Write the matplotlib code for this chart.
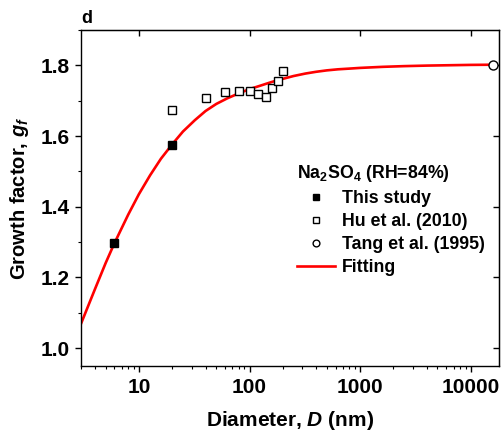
import matplotlib
matplotlib.use('Agg')
import matplotlib.pyplot as plt
import numpy as np
from matplotlib.ticker import FixedLocator, NullLocator, MultipleLocator, LogLocator, NullFormatter

plt.rcParams['font.family'] = ['Liberation Sans', 'DejaVu Sans']
plt.rcParams['font.weight'] = 'bold'
plt.rcParams['mathtext.fontset'] = 'custom'
plt.rcParams['mathtext.rm'] = 'Liberation Sans:bold'
plt.rcParams['mathtext.it'] = 'Liberation Sans:italic:bold'
plt.rcParams['mathtext.bf'] = 'Liberation Sans:bold'

# this study
d_this = [6, 20]
gf_this = [1.298, 1.575]

# Hu et al. (2010)
d_hu = [20, 40, 60, 80, 100, 120, 140, 160, 180, 200]
gf_hu = [1.675, 1.708, 1.725, 1.727, 1.727, 1.719, 1.710, 1.736, 1.756, 1.783]

# Tang et al. (1995)
d_tang = [16000]
gf_tang = [1.802]

# fitting curve
d_fit = [3, 4, 5, 6, 8, 10, 12.6, 15.8, 20, 25, 32, 40, 50, 63, 80, 100,
         126, 158, 200, 250, 320, 400, 500, 630, 800, 1000, 1600, 2500,
         4000, 6300, 10000, 16000]
gf_fit = [1.070, 1.167, 1.241, 1.297, 1.378, 1.436, 1.489, 1.536, 1.577,
          1.613, 1.645, 1.671, 1.691, 1.707, 1.721, 1.733, 1.743, 1.753,
          1.762, 1.770, 1.777, 1.782, 1.786, 1.789, 1.791, 1.793, 1.796,
          1.798, 1.7995, 1.8005, 1.8015, 1.802]

fig = plt.figure(figsize=(5.04, 4.36), dpi=100)
ax = fig.add_axes([0.161, 0.161, 0.829, 0.770])

ax.plot(d_fit, gf_fit, '-', color='red', lw=1.9, label='Fitting', zorder=2)
ax.plot(d_this, gf_this, 's', color='black', ms=5.5, label='This study', zorder=3)
ax.plot(d_hu, gf_hu, 's', mfc='white', mec='black', mew=1.0, ms=6, label='Hu et al. (2010)', zorder=3)
ax.plot(d_tang, gf_tang, 'o', mfc='white', mec='black', mew=1.0, ms=6.5, label='Tang et al. (1995)', zorder=3, clip_on=False)

ax.set_xscale('log')
ax.set_xlim(3, 18000)
ax.set_ylim(0.95, 1.9)

ax.xaxis.set_major_locator(FixedLocator([10, 100, 1000, 10000]))
ax.set_xticklabels(['10', '100', '1000', '10000'])
ax.xaxis.set_minor_locator(LogLocator(base=10, subs=np.arange(2, 10)))
ax.xaxis.set_minor_formatter(NullFormatter())
ax.yaxis.set_major_locator(FixedLocator([1.0, 1.2, 1.4, 1.6, 1.8]))
ax.set_yticklabels(['1.0', '1.2', '1.4', '1.6', '1.8'])
ax.yaxis.set_minor_locator(MultipleLocator(0.1))

ax.tick_params(which='major', direction='out', length=4.5, width=1, labelsize=15)
ax.tick_params(axis='x', which='major', pad=4)
ax.tick_params(axis='y', which='major', pad=3.5)
ax.tick_params(which='minor', direction='out', length=2.3, width=0.8)
for s in ax.spines.values():
    s.set_linewidth(1.0)

# inward ticks on top and right
top = ax.secondary_xaxis('top')
top.xaxis.set_major_locator(FixedLocator([10, 100, 1000, 10000]))
top.xaxis.set_minor_locator(NullLocator())
top.tick_params(direction='in', length=4.5, width=1, labeltop=False)
right = ax.secondary_yaxis('right')
right.yaxis.set_major_locator(FixedLocator([1.0, 1.2, 1.4, 1.6, 1.8]))
right.yaxis.set_minor_locator(NullLocator())
right.tick_params(direction='in', length=4.5, width=1, labelright=False)

ax.set_xlabel('Diameter, $D$ (nm)', fontsize=15, fontweight='bold', labelpad=9)
ax.set_ylabel('Growth factor, $g_f$', fontsize=14.5, fontweight='bold', labelpad=7)

ax.text(0.0, 1.008, 'd', transform=ax.transAxes, fontsize=13, fontweight='bold',
        ha='left', va='bottom')

h, l = ax.get_legend_handles_labels()
order = [1, 2, 3, 0]
leg = ax.legend([h[i] for i in order], [l[i] for i in order],
                title='Na$_2$SO$_4$ (RH=84%)', loc='upper left',
                bbox_to_anchor=(0.487, 0.64), frameon=False, fontsize=12.8,
                title_fontsize=12.8, markerscale=0.75, handlelength=2.15,
                handletextpad=0.35, labelspacing=0.33, borderpad=0.2)
leg._legend_box.align = 'left'
leg.get_title().set_fontweight('bold')

fig.savefig('out.png', dpi=100)
